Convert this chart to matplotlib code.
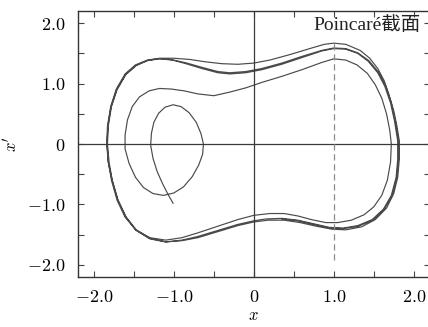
import matplotlib
matplotlib.use("Agg")
import matplotlib.pyplot as plt
import numpy as np

plt.rcParams['mathtext.fontset'] = 'cm'
plt.rcParams['font.family'] = ['Liberation Serif', 'Noto Sans CJK SC']

# trajectory, starting at (-1.0, -0.98) and spiralling out
inner_spiral = [
    (-1.01, -0.98), (-1.07, -0.84), (-1.14, -0.66), (-1.21, -0.45), (-1.26, -0.24),
    (-1.29, -0.02), (-1.28, 0.18), (-1.25, 0.36), (-1.19, 0.51), (-1.11, 0.61),
    (-1.01, 0.65), (-0.91, 0.62), (-0.81, 0.52), (-0.72, 0.36), (-0.66, 0.17),
    (-0.63, 0.0), (-0.64, -0.17), (-0.69, -0.35), (-0.77, -0.54), (-0.88, -0.71),
    (-1.0, -0.81), (-1.13, -0.85), (-1.26, -0.82), (-1.38, -0.72), (-1.48, -0.55),
    (-1.56, -0.32), (-1.61, -0.08), (-1.61, 0.15), (-1.58, 0.4), (-1.52, 0.62),
    (-1.43, 0.78), (-1.31, 0.88), (-1.18, 0.92), (-1.03, 0.91), (-0.87, 0.88),
    (-0.7, 0.83), (-0.5, 0.8), (-0.3, 0.86), (-0.1, 0.93), (0.1, 1.02),
    (0.35, 1.12), (0.6, 1.23), (0.85, 1.35), (1.0, 1.41), (1.15, 1.39),
    (1.29, 1.31), (1.42, 1.17), (1.52, 0.98), (1.6, 0.76), (1.66, 0.5),
    (1.7, 0.23), (1.72, 0.0), (1.71, -0.3), (1.67, -0.6), (1.6, -0.85),
    (1.5, -1.04), (1.38, -1.17), (1.22, -1.26), (1.05, -1.3), (0.9, -1.3),
    (0.72, -1.25), (0.55, -1.19), (0.38, -1.15), (0.2, -1.15), (0.0, -1.18),
    (-0.2, -1.25), (-0.45, -1.36), (-0.7, -1.47), (-0.9, -1.55), (-1.1, -1.59),
]

outer_loop_a = [
    (-1.3, -1.55), (-1.47, -1.42), (-1.6, -1.2), (-1.7, -0.92), (-1.77, -0.6),
    (-1.81, -0.3), (-1.83, 0.0), (-1.82, 0.3), (-1.78, 0.62), (-1.71, 0.9),
    (-1.6, 1.15), (-1.47, 1.3), (-1.33, 1.38), (-1.18, 1.41), (-1.02, 1.39),
    (-0.85, 1.33), (-0.65, 1.25), (-0.45, 1.18), (-0.3, 1.16), (-0.1, 1.18),
    (0.1, 1.23), (0.35, 1.32), (0.6, 1.43), (0.85, 1.54), (1.0, 1.58),
    (1.15, 1.57), (1.3, 1.5), (1.43, 1.37), (1.55, 1.18), (1.64, 0.95),
    (1.71, 0.68), (1.76, 0.38), (1.8, 0.05), (1.8, -0.25), (1.78, -0.55),
    (1.72, -0.85), (1.62, -1.08), (1.48, -1.25), (1.3, -1.35), (1.12, -1.39),
    (0.95, -1.38), (0.75, -1.32), (0.55, -1.26), (0.35, -1.23), (0.15, -1.24),
    (0.0, -1.27), (-0.2, -1.33), (-0.45, -1.43), (-0.7, -1.53), (-0.9, -1.59),
    (-1.1, -1.62),
]

outer_loop_b = [
    (-1.3, -1.57), (-1.47, -1.43), (-1.61, -1.21), (-1.71, -0.93), (-1.78, -0.6),
    (-1.82, -0.3), (-1.84, 0.0), (-1.83, 0.3), (-1.79, 0.62), (-1.72, 0.91),
    (-1.61, 1.16), (-1.48, 1.31), (-1.33, 1.39), (-1.18, 1.42), (-1.0, 1.42),
    (-0.8, 1.4), (-0.6, 1.36), (-0.4, 1.33), (-0.2, 1.32), (0.0, 1.34),
    (0.2, 1.39), (0.45, 1.48), (0.7, 1.58), (0.88, 1.65), (1.0, 1.67),
    (1.15, 1.65), (1.33, 1.55), (1.45, 1.42), (1.55, 1.25), (1.63, 1.05),
    (1.69, 0.82), (1.75, 0.55), (1.79, 0.3), (1.82, 0.05), (1.82, -0.25),
    (1.8, -0.55), (1.75, -0.82), (1.66, -1.06), (1.52, -1.25), (1.35, -1.37),
    (1.15, -1.42), (0.98, -1.41), (0.78, -1.36), (0.58, -1.3), (0.38, -1.26),
    (0.18, -1.26), (0.0, -1.29), (-0.2, -1.35), (-0.45, -1.45), (-0.7, -1.55),
    (-0.9, -1.6), (-1.1, -1.62),
]

outer_loop_c = [
    (-1.3, -1.56), (-1.48, -1.42), (-1.6, -1.21), (-1.7, -0.93), (-1.77, -0.61),
    (-1.82, -0.3), (-1.835, 0.0), (-1.825, 0.3), (-1.785, 0.62), (-1.715, 0.9),
    (-1.605, 1.15), (-1.475, 1.3), (-1.33, 1.385), (-1.18, 1.415), (-1.02, 1.395),
    (-0.85, 1.345), (-0.65, 1.27), (-0.45, 1.2), (-0.3, 1.18), (-0.1, 1.2),
    (0.1, 1.25), (0.35, 1.34), (0.6, 1.45), (0.85, 1.55), (1.0, 1.59),
    (1.15, 1.58), (1.3, 1.51), (1.44, 1.38), (1.56, 1.19), (1.65, 0.96),
    (1.72, 0.68), (1.77, 0.38), (1.81, 0.05), (1.81, -0.25), (1.79, -0.55),
    (1.73, -0.85), (1.63, -1.08), (1.49, -1.26), (1.31, -1.36), (1.12, -1.4),
    (0.95, -1.39), (0.75, -1.33), (0.55, -1.27), (0.35, -1.24),
]

dash_x = 1.0
dash_y = (-1.92, 1.67)

tick_major = [-2.0, -1.0, 0.0, 1.0, 2.0]
tick_labels = [r'$-2.0$', r'$-1.0$', r'$0$', r'$1.0$', r'$2.0$']
tick_minor = [-1.5, -0.5, 0.5, 1.5]

title_text = 'Poincaré截面'

traj = np.array(inner_spiral + outer_loop_a + outer_loop_b + outer_loop_c)

fig = plt.figure(figsize=(4.28, 3.27), dpi=100)
ax = fig.add_axes([0.182, 0.153, 0.822, 0.813])

ax.plot(traj[:, 0], traj[:, 1], color='#4a4a4a', lw=0.85)
ax.axhline(0, color='#3a3a3a', lw=0.9)
ax.axvline(0, color='#3a3a3a', lw=0.9)
ax.plot([dash_x, dash_x], dash_y, color='#8a8a8a', lw=0.9, ls=(0, (5, 3)))

ax.set_xlim(-2.2, 2.2)
ax.set_ylim(-2.2, 2.2)
ax.set_xticks(tick_major)
ax.set_xticklabels(tick_labels)
ax.set_yticks(tick_major)
ax.set_yticklabels(tick_labels)
ax.set_xticks(tick_minor, minor=True)
ax.set_yticks(tick_minor, minor=True)
ax.tick_params(which='both', direction='in', top=True, right=True,
               length=4, width=0.8, color='#444444', labelsize=13, pad=9)
for s in ax.spines.values():
    s.set_linewidth(1.0)
    s.set_color('#333333')

ax.set_xlabel(r'$x$', fontsize=12, labelpad=1)
ax.set_ylabel(r"$x'$", fontsize=12, labelpad=4)

ax.text(0.75, 1.97, title_text, fontsize=14, ha='left', va='center', color='#222222')

fig.savefig('out.png', dpi=100)
